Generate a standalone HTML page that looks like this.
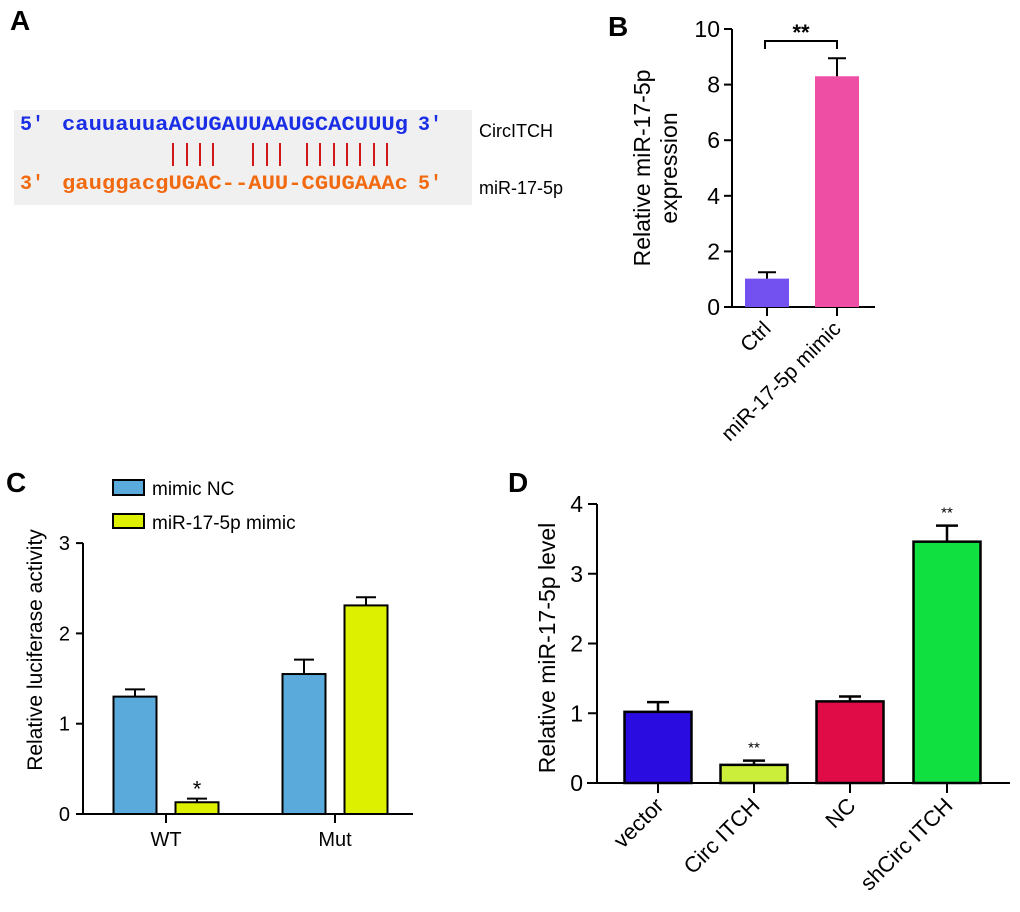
<!DOCTYPE html>
<html><head><meta charset="utf-8"><style>
body{margin:0;background:#fff}
svg{display:block;font-family:"Liberation Sans",Arial,sans-serif}
</style></head><body>
<svg width="1020" height="912" viewBox="0 0 1020 912">
<g font-weight="bold" font-size="28">
<text x="10" y="30">A</text>
<text x="608" y="36">B</text>
<text x="6" y="492">C</text>
<text x="508" y="492">D</text>
</g>
<g>
<rect x="14" y="110" width="458" height="95" fill="#f0f0f0"/>
<g font-family="Liberation Mono,monospace" font-weight="bold" font-size="20">
<text x="20" y="130" fill="#1a2ee6">5'</text>
<text x="62" y="130" fill="#1a2ee6" textLength="346" lengthAdjust="spacingAndGlyphs">cauuauuaACUGAUUAAUGCACUUUg</text>
<text x="418" y="130" fill="#1a2ee6">3'</text>
<text x="20" y="189" fill="#f26a10">3'</text>
<text x="62" y="189" fill="#f26a10" textLength="346" lengthAdjust="spacingAndGlyphs">gauggacgUGAC--AUU-CGUGAAAc</text>
<text x="418" y="189" fill="#f26a10">5'</text>
</g>
<g stroke="#d01818" stroke-width="2">
<path d="M173 143V166M187 143V166M200 143V166M213 143V166M253 143V166M267 143V166M280 143V166M307 143V166M320 143V166M334 143V166M347 143V166M360 143V166M374 143V166M387 143V166"/>
</g>
<text x="479" y="137" font-size="18">CircITCH</text>
<text x="479" y="194" font-size="18">miR-17-5p</text>
</g>
<g id="chartB"></g>
<g id="chartC"></g>
<g id="chartD"></g>
</svg>
<script>
const NS="http://www.w3.org/2000/svg";
function mk(p,t,a,txt){const e=document.createElementNS(NS,t);for(const k in a)e.setAttribute(k,a[k]);if(txt!==undefined)e.textContent=txt;p.appendChild(e);return e;}

// Panel B data
const bCats=["Ctrl","miR-17-5p mimic"];
const bVals=[1.02,8.3];
const bErr=[0.23,0.65];
const bTicks=[0,2,4,6,8,10];
const bColors=["#7350f0","#ee4fa5"];
// Panel C data
const cGroups=["WT","Mut"];
const cNC=[1.3,1.55];
const cNCErr=[0.08,0.16];
const cMimic=[0.13,2.31];
const cMimicErr=[0.04,0.09];
const cTicks=[0,1,2,3];
// Panel D data
const dCats=["vector","Circ ITCH","NC","shCirc ITCH"];
const dVals=[1.02,0.26,1.17,3.46];
const dErr=[0.14,0.06,0.07,0.23];
const dTicks=[0,1,2,3,4];
const dColors=["#2a0ce0","#cbee3a","#e00c48","#10e040"];

// ---- B ----
(function(){
const g=document.getElementById('chartB');
const y=v=>307-v*27.8, x0=732;
const cx=[767,837], bw=44;
mk(g,'line',{x1:x0,y1:29,x2:x0,y2:308,stroke:'#000','stroke-width':2});
mk(g,'line',{x1:x0-1,y1:307,x2:875,y2:307,stroke:'#000','stroke-width':2});
bTicks.forEach(t=>{mk(g,'line',{x1:x0-8,y1:y(t),x2:x0,y2:y(t),stroke:'#000','stroke-width':2});
const e=mk(g,'text',{x:x0-12,y:y(t)+8,'text-anchor':'end','font-size':23},t);
});
bVals.forEach((v,i)=>{
const r=mk(g,'rect',{x:cx[i]-bw/2,y:y(v),width:bw,height:y(0)-y(v),fill:bColors[i]});

mk(g,'path',{d:`M${cx[i]} ${y(v)}V${y(v+bErr[i])}M${cx[i]-9} ${y(v+bErr[i])}H${cx[i]+9}`,stroke:'#000','stroke-width':2,fill:'none'});
mk(g,'line',{x1:cx[i],y1:307,x2:cx[i],y2:316,stroke:'#000','stroke-width':2});
const t=mk(g,'text',{x:cx[i]+5,y:330,'text-anchor':'end','font-size':21,transform:`rotate(-45 ${cx[i]+5} 330)`},bCats[i]);

});
mk(g,'path',{d:`M765 49V41H837V49`,stroke:'#000','stroke-width':2,fill:'none'});
mk(g,'text',{x:801,y:40,'text-anchor':'middle','font-size':22,'font-weight':'bold'},'**');
const yt=mk(g,'text',{transform:'translate(650 168) rotate(-90)','text-anchor':'middle','font-size':23},'Relative miR-17-5p');

mk(g,'text',{transform:'translate(677 168) rotate(-90)','text-anchor':'middle','font-size':23},'expression');
})();

// ---- C ----
(function(){
const g=document.getElementById('chartC');
const y=v=>814-v*90.3, x0=83;
const gc=[166,335], bw=43, off=31;
mk(g,'line',{x1:x0,y1:543,x2:x0,y2:815,stroke:'#000','stroke-width':2});
mk(g,'line',{x1:76,y1:814,x2:413,y2:814,stroke:'#000','stroke-width':2});
cTicks.forEach(t=>{mk(g,'line',{x1:x0-7,y1:y(t),x2:x0,y2:y(t),stroke:'#000','stroke-width':2});
const e=mk(g,'text',{x:x0-13,y:y(t)+7,'text-anchor':'end','font-size':20},t);
});
cGroups.forEach((gname,i)=>{
[[cNC,cNCErr,'#5aabdc',-1],[cMimic,cMimicErr,'#dcf000',1]].forEach(([vals,errs,col,s])=>{
const c=gc[i]+s*off, v=vals[i];
const r=mk(g,'rect',{x:c-bw/2,y:y(v),width:bw,height:y(0)-y(v),fill:col,stroke:'#000','stroke-width':2});

mk(g,'path',{d:`M${c} ${y(v)}V${y(v+errs[i])}M${c-10} ${y(v+errs[i])}H${c+10}`,stroke:'#000','stroke-width':2,fill:'none'});
});
mk(g,'line',{x1:gc[i],y1:814,x2:gc[i],y2:823,stroke:'#000','stroke-width':2});
const t=mk(g,'text',{x:gc[i],y:846,'text-anchor':'middle','font-size':20},gname);

});
mk(g,'text',{x:gc[0]+off,y:y(cMimic[0]+cMimicErr[0])-2,'text-anchor':'middle','font-size':22},'*');
const yt=mk(g,'text',{transform:'translate(42 650) rotate(-90)','text-anchor':'middle','font-size':21},'Relative luciferase activity');

const l1=mk(g,'rect',{x:113,y:480,width:31,height:15,fill:'#5aabdc',stroke:'#000','stroke-width':2});

mk(g,'text',{x:152,y:495,'font-size':19},'mimic NC');
const l2=mk(g,'rect',{x:113,y:514,width:31,height:14,fill:'#dcf000',stroke:'#000','stroke-width':2});

mk(g,'text',{x:152,y:529,'font-size':19},'miR-17-5p mimic');
})();

// ---- D ----
(function(){
const g=document.getElementById('chartD');
const y=v=>783-v*69.75, x0=597;
const cx=[658,754,850,947], bw=67;
mk(g,'line',{x1:x0,y1:504,x2:x0,y2:784,stroke:'#000','stroke-width':2});
mk(g,'line',{x1:587,y1:783,x2:1010,y2:783,stroke:'#000','stroke-width':2});
dTicks.forEach(t=>{mk(g,'line',{x1:x0-9,y1:y(t),x2:x0,y2:y(t),stroke:'#000','stroke-width':2});
const e=mk(g,'text',{x:x0-14,y:y(t)+8,'text-anchor':'end','font-size':23},t);
});
dVals.forEach((v,i)=>{
const r=mk(g,'rect',{x:cx[i]-bw/2,y:y(v),width:bw,height:y(0)-y(v),fill:dColors[i],stroke:'#000','stroke-width':2.5});

mk(g,'path',{d:`M${cx[i]} ${y(v)}V${y(v+dErr[i])}M${cx[i]-11} ${y(v+dErr[i])}H${cx[i]+11}`,stroke:'#000','stroke-width':2.5,fill:'none'});
mk(g,'line',{x1:cx[i],y1:783,x2:cx[i],y2:793,stroke:'#000','stroke-width':2});
const t=mk(g,'text',{x:cx[i]+7,y:807,'text-anchor':'end','font-size':22,transform:`rotate(-45 ${cx[i]+7} 807)`},dCats[i]);

});
[1,3].forEach(i=>mk(g,'text',{x:cx[i],y:y(dVals[i]+dErr[i])-8,'text-anchor':'middle','font-size':15},'**'));
const yt=mk(g,'text',{transform:'translate(555 648) rotate(-90)','text-anchor':'middle','font-size':23},'Relative miR-17-5p level');

})();
</script>
</body></html>
